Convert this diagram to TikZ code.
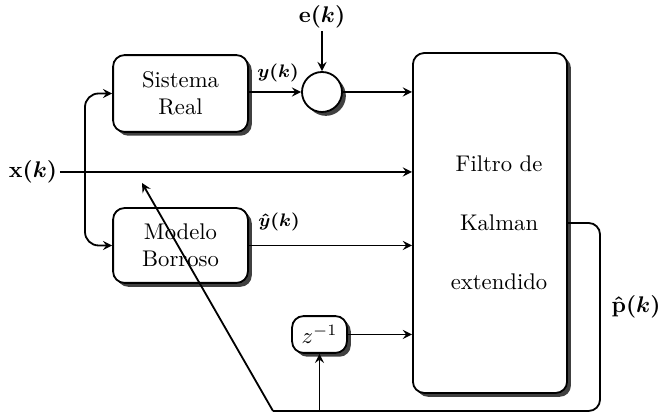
\documentclass[tikz,border=0pt]{standalone}
\usepackage{amsmath,amssymb}
\usepackage{xcolor}
\usepackage{tikz}
\usetikzlibrary{shapes,arrows,positioning,calc,shadows}

\begin{document}
\begin{tikzpicture}[
  x=0.0155cm, y=0.0155cm,
  box/.style={rectangle, draw=black, thick, fill=white, rounded corners=5pt, drop shadow={shadow xshift=0.06cm, shadow yshift=-0.06cm, fill=black!75, opacity=1}, align=center, inner sep=0pt},
  sumnode/.style={circle, draw=black, thick, fill=white, minimum size=0.62cm, inner sep=0pt, drop shadow={shadow xshift=0.06cm, shadow yshift=-0.06cm, fill=black!75, opacity=1}},
  lab/.style={inner sep=1pt},
  arrow/.style={->, >=stealth, thick, black}
]
\useasboundingbox (0,0) rectangle (664,414);

% Plant and model
\node[box, minimum width=2.09cm, minimum height=1.19cm] (sis) at (180.5,320.5) {Sistema\\Real};
\node[box, minimum width=2.09cm, minimum height=1.16cm] (mod) at (180.5,168.5) {Modelo\\Borroso};

% Noise sum
\node[sumnode] (sum) at (322,322) {};
\node[lab] (elab) at (322,397) {$\boldsymbol{\mathbf{e}(k)}$};

% Filter
\node[box, minimum width=2.39cm, minimum height=5.27cm] (kal) at (490,191) {\hspace*{8pt}Filtro de\\[14pt]\hspace*{8pt}Kalman\\[14pt]\hspace*{8pt}extendido};

% Delay
\node[box, minimum width=0.85cm, minimum height=0.57cm] (zinv) at (319.5,79.5) {$z^{-1}$};

% Input and output labels
\node[lab] (xlab) at (33,242) {$\boldsymbol{\mathbf{x}(k)}$};
\node[lab] (plab) at (636,107) {$\boldsymbol{\hat{\mathbf{p}}(k)}$};
\node[lab, font=\footnotesize] (ylab) at (278,341) {$\boldsymbol{y(k)}$};
\node[lab, font=\footnotesize] (yhlab) at (279,192) {$\boldsymbol{\hat{y}(k)}$};

% Helper points
\coordinate (split) at (85,242);
\coordinate (fb) at (273,3);
\coordinate (adapt) at (142,231);
\coordinate (tap) at (zinv.south |- fb);

% Connections
\draw[arrow] (elab) -- (sum);
\draw[arrow] (sis.east |- sum.west) -- (sum.west);
\draw[arrow] (sum.east) -- (kal.west |- sum.east);
\draw[arrow] (xlab) -- (kal.west |- xlab.east);
\draw[arrow] (mod.east) -- (kal.west |- mod.east);
\draw[arrow] (zinv.east) -- (kal.west |- zinv.east);
\draw[arrow, rounded corners=6pt] (split) |- (sis.west);
\draw[arrow, rounded corners=6pt] (split) |- (mod.west);
\draw[thick, rounded corners=5pt] (kal.east) -| (600,3) -- (fb);
\draw[arrow] (fb) -- (adapt);
\draw[arrow] (tap) -- (zinv.south);

\end{tikzpicture}
\end{document}
